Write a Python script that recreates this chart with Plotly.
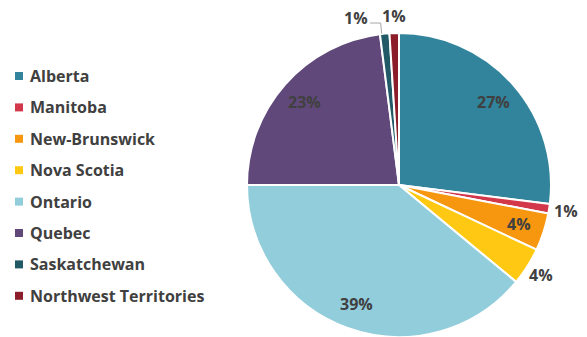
import math
import plotly.graph_objects as go

# Share of respondents by province / territory (percent)
provinces = ["Alberta", "Manitoba", "New-Brunswick", "Nova Scotia",
             "Ontario", "Quebec", "Saskatchewan", "Northwest Territories"]
shares = [27, 1, 4, 4, 39, 23, 1, 1]

colors = ["#31849B", "#D2384A", "#F7960F", "#FFC913",
          "#92CDDC", "#60497A", "#215967", "#8B1C2A"]

W, H = 587, 337
R = 152                                # pie radius in pixels
CX, CY = 399, H - R                    # pie centre (bottom edge touches the page)
TEXT_COLOR = "#404040"
FONT = "Open Sans"

# slices whose percentage sits outside the pie
outside = {"Manitoba", "Nova Scotia", "Saskatchewan", "Northwest Territories"}


def px(x, y):
    """pixel position -> paper coordinates"""
    return x / W, 1 - y / H


fig = go.Figure()
fig.add_trace(go.Pie(
    labels=provinces,
    values=shares,
    sort=False,
    direction="clockwise",
    rotation=0,
    marker=dict(colors=colors, line=dict(color="white", width=2)),
    textinfo="none",
    hoverinfo="label+percent",
    showlegend=False,
    domain=dict(x=[(CX - R) / W, (CX + R) / W],
                y=[0, 2 * R / H]),
))

annotations = []
shapes = []

# percentage labels placed at each slice's mid-angle
total = sum(shares)
cum = 0.0
for name, v in zip(provinces, shares):
    mid = (cum + v / 2) / total * 2 * math.pi
    cum += v
    r = R * (1.11 if name in outside else 0.83)
    lx = CX + r * math.sin(mid)
    ly = CY - r * math.cos(mid)
    if name == "Saskatchewan":
        # nudged left to clear its neighbour, with a leader to the slice
        ex = CX + R * math.sin(mid) - 3
        ey = CY - R * math.cos(mid)
        lx -= 27
        ly += 1
        shapes.append(dict(
            type="path", xref="paper", yref="paper",
            path="M {:.4f},{:.4f} L {:.4f},{:.4f} L {:.4f},{:.4f}".format(
                *px(lx + 14, ly + 5), *px(ex - 1, ly + 5), *px(ex, ey)),
            line=dict(color="#A6A6A6", width=1)))
    x, y = px(lx, ly)
    annotations.append(dict(
        x=x, y=y, xref="paper", yref="paper", showarrow=False,
        text=f"{v / total:.0%}", xanchor="center", yanchor="middle",
        font=dict(family=FONT, size=16, color=TEXT_COLOR, weight="bold")))

# legend: square swatch + name for every slice
for i, (name, c) in enumerate(zip(provinces, colors)):
    yc = 76 + i * 31.4
    x0, y0 = px(15, yc - 4)
    x1, y1 = px(23, yc + 4)
    shapes.append(dict(type="rect", xref="paper", yref="paper",
                       x0=x0, x1=x1, y0=y1, y1=y0,
                       fillcolor=c, line=dict(width=0)))
    x, y = px(28, yc)
    annotations.append(dict(
        x=x, y=y, xref="paper", yref="paper", showarrow=False,
        text=name, xanchor="left", yanchor="middle",
        font=dict(family=FONT, size=16, color=TEXT_COLOR, weight="bold")))

fig.update_layout(
    width=W, height=H,
    margin=dict(l=0, r=0, t=0, b=0),
    paper_bgcolor="white",
    plot_bgcolor="white",
    annotations=annotations,
    shapes=shapes,
)

fig.write_html("out.html")
